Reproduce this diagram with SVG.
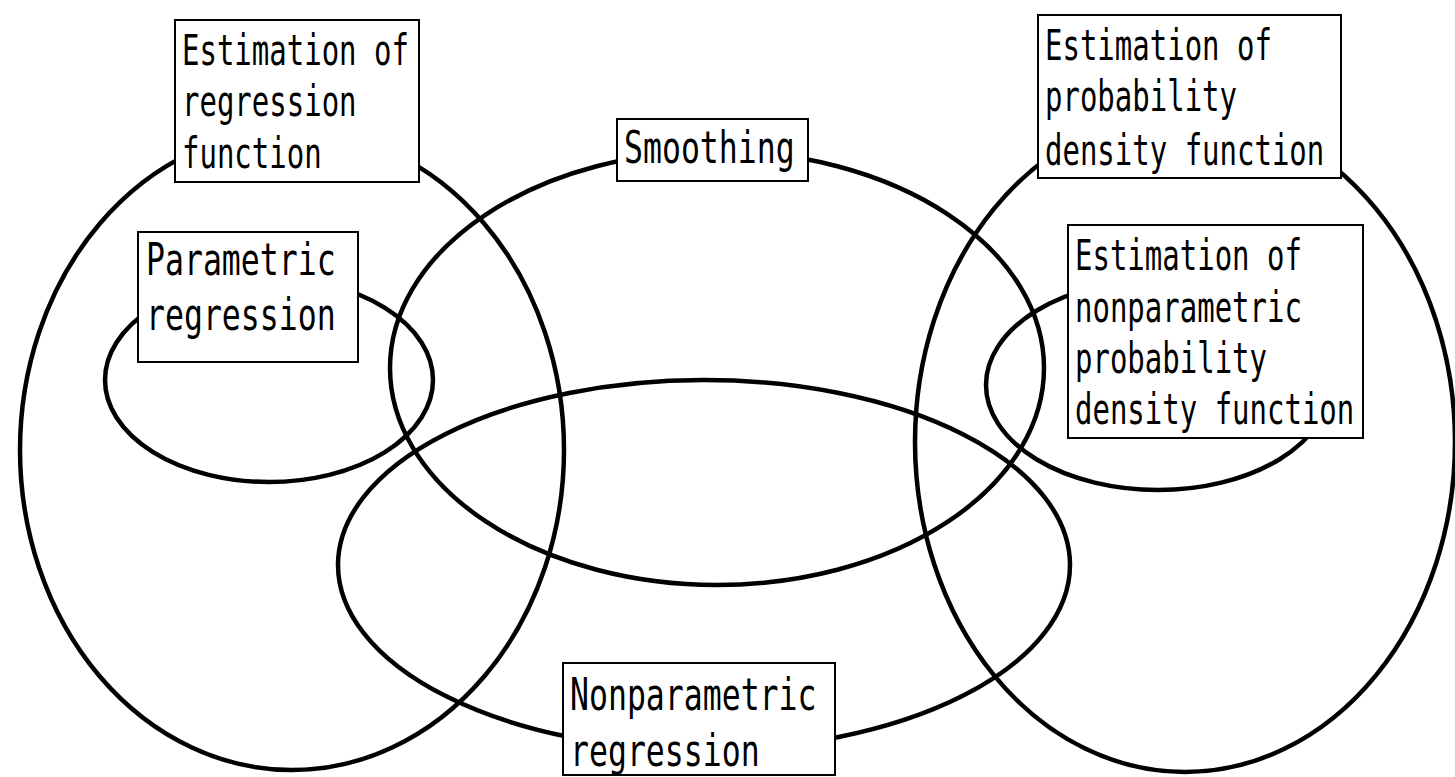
<svg xmlns="http://www.w3.org/2000/svg" width="1455" height="777" viewBox="0 0 1455 777">
<style>
.ring{fill:none;stroke:#000;stroke-width:4.5}
.box{fill:#fff;stroke:#000;stroke-width:2}
.t{font-family:"DejaVu Sans Mono","Liberation Mono",monospace;fill:#000}
.s29{font-size:29px}
.s31{font-size:31.5px}
</style>
<rect width="1455" height="777" fill="#fff"/>
<g id="connectors">
<ellipse id="ring-regression" class="ring" cx="292" cy="450" rx="272" ry="320"/>
<ellipse id="ring-density" class="ring" cx="1185" cy="442" rx="270" ry="330"/>
<ellipse id="ring-smoothing" class="ring" cx="717" cy="368" rx="327" ry="217"/>
<ellipse id="ring-nonparam-regression" class="ring" cx="704" cy="565" rx="366" ry="185"/>
<ellipse id="ring-parametric" class="ring" cx="269" cy="380" rx="164" ry="102"/>
<ellipse id="ring-nonparam-density" class="ring" cx="1158" cy="385" rx="172" ry="105"/>
</g>
<g id="node-regression-function">
<rect class="box" x="175" y="20" width="244" height="162"/>
<text class="t s29" transform="translate(182 65) scale(1 1.45)">Estimation of</text>
<text class="t s29" transform="translate(182 116) scale(1 1.45)">regression</text>
<text class="t s29" transform="translate(182 168) scale(1 1.45)">function</text>
</g>
<g id="node-density-function">
<rect class="box" x="1038" y="15" width="303" height="163"/>
<text class="t s29" transform="translate(1045 60) scale(1 1.45)">Estimation of</text>
<text class="t s29" transform="translate(1045 111) scale(1 1.45)">probability</text>
<text class="t s29" transform="translate(1045 165) scale(1 1.45)">density function</text>
</g>
<g id="node-nonparam-density">
<rect class="box" x="1068" y="225" width="295" height="213"/>
<text class="t s29" transform="translate(1075 270) scale(1 1.45)">Estimation of</text>
<text class="t s29" transform="translate(1075 322) scale(1 1.45)">nonparametric</text>
<text class="t s29" transform="translate(1075 373) scale(1 1.45)">probability</text>
<text class="t s29" transform="translate(1075 424) scale(1 1.45)">density function</text>
</g>
<g id="node-parametric">
<rect class="box" x="138" y="232" width="220" height="130"/>
<text class="t s31" transform="translate(146 275) scale(1 1.4)">Parametric</text>
<text class="t s31" transform="translate(146 330) scale(1 1.4)">regression</text>
</g>
<g id="node-smoothing">
<rect class="box" x="617" y="119" width="191" height="62"/>
<text class="t s31" transform="translate(624 163) scale(1 1.4)">Smoothing</text>
</g>
<g id="node-nonparam-regression">
<rect class="box" x="563" y="663" width="272" height="112"/>
<text class="t s31" transform="translate(570 710) scale(1 1.4)">Nonparametric</text>
<text class="t s31" transform="translate(570 766) scale(1 1.4)">regression</text>
</g>
</svg>
